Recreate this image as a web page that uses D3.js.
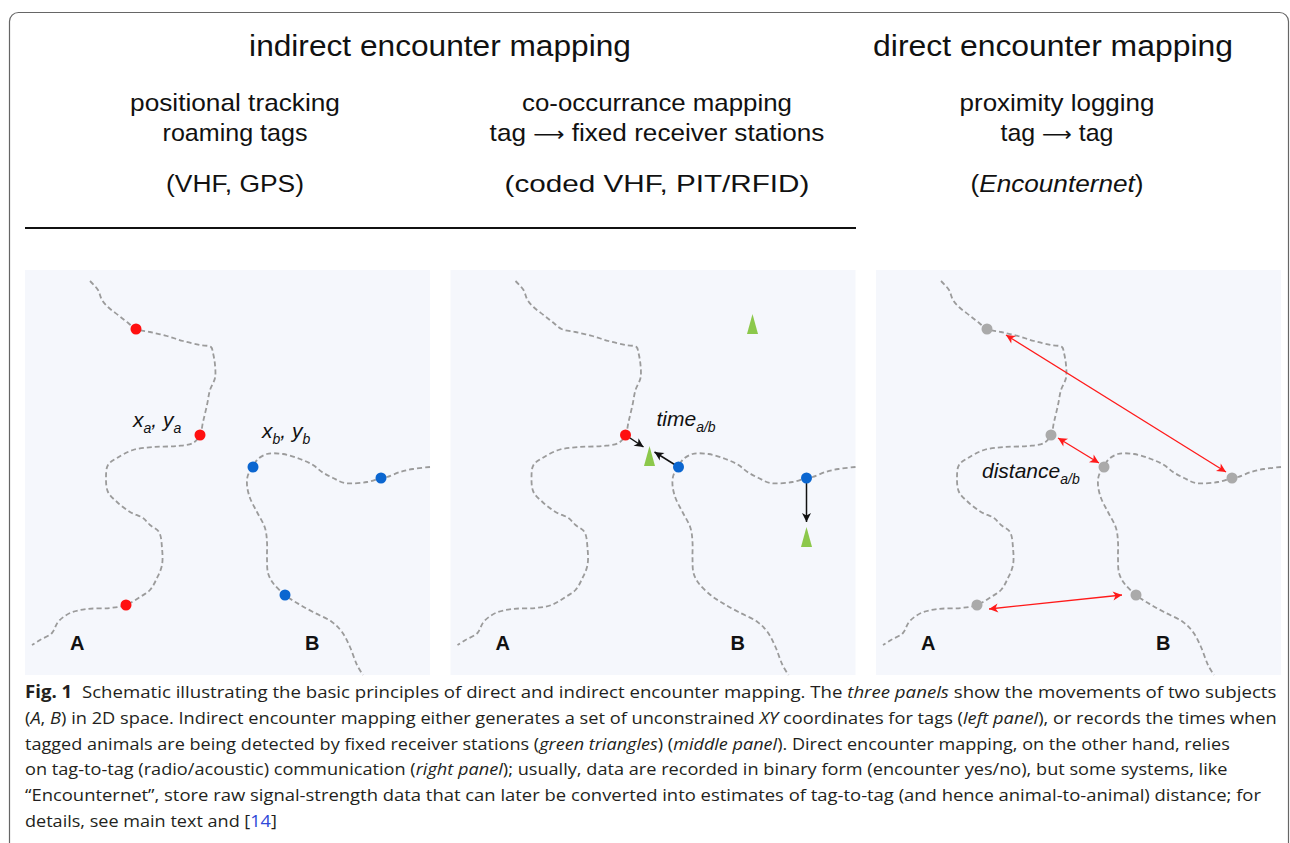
<!DOCTYPE html>
<html>
<head>
<meta charset="utf-8">
<script src="https://cdn.jsdelivr.net/npm/d3@7"></script>
<style>
  body { margin: 0; background: #fff; }
  text { white-space: pre; }
</style>
</head>
<body>
<svg id="fig"></svg>
<script>
// Schematic: indirect vs direct encounter mapping (three panels + caption)

var W = 1290, H = 843;

// ---- data (panel units, 0..405) ----
var panelNames = ["positional", "cooccurrence", "proximity"];

var trackA = [[65,11],[73,20],[77,30],[83,37],[93,45],[102,52],[111,59],[125,62],[142,66],
  [158,71],[175,75],[186,77],[188,83],[190,95],[190,108],[185,120],[182,135],[178,152],
  [175,165],[168,173],[152,176],[128,177],[108,180],[92,188],[83,195],[81,208],[83,222],
  [92,232],[105,242],[118,248],[125,255],[134,262],[137,278],[137,295],[132,308],[125,320],
  [115,327],[101,335],[85,338],[62,339],[45,343],[33,352],[27,363],[15,370],[7,375]];

var trackB = [[405,197],[388,199],[375,202],[362,207],[356,208],[342,212],[320,213],[308,208],
  [297,202],[288,195],[275,189],[258,184],[242,184],[232,190],[228,197],[223,205],[222,215],
  [225,228],[232,242],[240,258],[242,272],[242,288],[243,303],[248,313],[260,325],[272,333],
  [288,342],[307,352],[317,362],[325,377],[332,395],[338,405]];

var fixesA = [[111,59],[175,165],[101,335]];
var fixesB = [[228,197],[356,208],[260,325]];

// receiver stations: [x, base y]
var stations = [[302,64],[199,196],[356,277]];
// tag -> station detections: [x1,y1,x2,y2]
var detections = [[175,165,193,177],[228,197,204,182],[356,208,356,252]];
// tag <-> tag distances: [x1,y1,x2,y2]
var distances = [[130,65,350,202],[182,168,223,193],[113,339,246,325]];

var titles = ["indirect encounter mapping", "direct encounter mapping"];
var methods = [[[["positional tracking",""]], [["roaming tags",""]]],
               [[["co-occurrance mapping",""]], [["tag ",""],["\u27f6","a"],[" fixed receiver stations",""]]],
               [[["proximity logging",""]], [["tag ",""],["\u27f6","a"],[" tag",""]]]];
var systems = [[["(",""],["VHF, GPS",""],[")",""]],
               [["(",""],["coded VHF, PIT/RFID",""],[")",""]],
               [["(",""],["Encounternet","i"],[")",""]]];

var caption = [
  [["Fig. 1","b"],["  Schematic illustrating the basic principles of direct and indirect encounter mapping. The ",""],["three panels","i"],[" show the movements of two subjects",""]],
  [["(",""],["A","i"],[", ",""],["B","i"],[") in 2D space. Indirect encounter mapping either generates a set of unconstrained ",""],["XY","i"],[" coordinates for tags (",""],["left panel","i"],["), or records the times when",""]],
  [["tagged animals are being detected by fixed receiver stations (",""],["green triangles","i"],[") (",""],["middle panel","i"],["). Direct encounter mapping, on the other hand, relies",""]],
  [["on tag-to-tag (radio/acoustic) communication (",""],["right panel","i"],["); usually, data are recorded in binary form (encounter yes/no), but some systems, like",""]],
  [["\u201cEncounternet\u201d, store raw signal-strength data that can later be converted into estimates of tag-to-tag (and hence animal-to-animal) distance; for",""]],
  [["details, see main text and [",""],["14","l"],["]",""]]
];

// ---- layout ----
var panelTop = 270, panelSize = 405;
var titleX = [440, 1053], titleW = [382, 360];
var methodX = [235, 657, 1057];
var methodW = [[210, 145], [270, 335], [195, 113]];
var systemW = [138, 305, 173];
var captionEnd = [1277, 1277, 1231, 1228, 1262, 277];

var svg = d3.select("#fig").attr("width", W).attr("height", H);

var defs = svg.append("defs");
function arrowMarker(id, color) {
  defs.append("marker")
      .attr("id", id)
      .attr("viewBox", "-10 -5 11 10")
      .attr("refX", 0).attr("refY", 0)
      .attr("markerUnits", "userSpaceOnUse")
      .attr("markerWidth", 11).attr("markerHeight", 10)
      .attr("orient", "auto-start-reverse")
    .append("path")
      .attr("d", "M0,0 L-9,-4.5 L-6.5,0 L-9,4.5 Z")
      .attr("fill", color);
}
arrowMarker("headBlack", "#111");
arrowMarker("headRed", "#ff1a1a");

// outer frame
svg.append("rect")
    .attr("x", 9.5).attr("y", 12.5)
    .attr("width", 1279).attr("height", 900)
    .attr("rx", 9)
    .attr("fill", "none")
    .attr("stroke", "#666")
    .attr("stroke-width", 1.2);

// stretch a text line horizontally to a measured width
function fitLine(x, y, width, anchor, build) {
  var g = svg.append("g");
  var t = g.append("text").attr("text-anchor", anchor);
  build(t);
  var k = width / t.node().getComputedTextLength();
  g.attr("transform", "translate(" + x + "," + y + ") scale(" + k + ",1)");
  return t;
}

function addRuns(t, runs) {
  runs.forEach(function(r) {
    var s = t.append("tspan").text(r[0]);
    if (r[1] == "i") s.style("font-style", "italic");
    if (r[1] == "b") s.style("font-weight", "bold");
    if (r[1] == "l") s.attr("fill", "#2f49d8");
    if (r[1] == "a") s.style("font-family", "'DejaVu Sans', sans-serif").style("font-size", "20px");
  });
}

var headFont = "'Liberation Sans', Arial, sans-serif";

titles.forEach(function(d, i) {
  fitLine(titleX[i], 56, titleW[i], "middle", function(t) {
    t.style("font-family", headFont).style("font-size", "30px").attr("fill", "#111").text(d);
  });
});

methods.forEach(function(lines, i) {
  lines.forEach(function(runs, j) {
    fitLine(methodX[i], 111 + j * 30, methodW[i][j], "middle", function(t) {
      t.style("font-family", headFont).style("font-size", "24px").attr("fill", "#111");
      addRuns(t, runs);
    });
  });
  fitLine(methodX[i], 192, systemW[i], "middle", function(t) {
    t.style("font-family", headFont).style("font-size", "24px").attr("fill", "#111");
    addRuns(t, systems[i]);
  });
});

// rule under the indirect group
svg.append("line")
    .attr("x1", 25).attr("x2", 856)
    .attr("y1", 228).attr("y2", 228)
    .attr("stroke", "#111")
    .attr("stroke-width", 2);

// ---- panels ----
var px = d3.scaleBand().domain(panelNames).range([25, 1281]).paddingInner(20.5 / 425.5);
var x = d3.scaleLinear().domain([0, 405]).range([0, panelSize]);
var y = d3.scaleLinear().domain([0, 405]).range([0, panelSize]);

var track = d3.line()
    .x(function(d) { return x(d[0]); })
    .y(function(d) { return y(d[1]); })
    .curve(d3.curveCatmullRom.alpha(0.5));

var panels = svg.selectAll("g.panel")
    .data(panelNames)
    .enter()
    .append("g")
    .attr("class", "panel")
    .attr("transform", function(d) { return "translate(" + px(d) + "," + panelTop + ")"; });

panels.append("rect")
    .attr("width", px.bandwidth())
    .attr("height", panelSize)
    .attr("fill", "#f5f7fc");

panels.selectAll("path.track")
    .data([trackA, trackB])
    .enter()
    .append("path")
    .attr("class", "track")
    .attr("d", track)
    .attr("fill", "none")
    .attr("stroke", "#9b9b9b")
    .attr("stroke-width", 1.8)
    .attr("stroke-dasharray", "5,3");

var labelFont = "'Liberation Sans', Arial, sans-serif";
panels.each(function(name) {
  var p = d3.select(this);
  ["A", "B"].forEach(function(s, i) {
    p.append("text")
        .attr("x", x([45, 280][i]))
        .attr("y", y(380))
        .style("font-family", labelFont)
        .style("font-size", "20px")
        .style("font-weight", "bold")
        .attr("fill", "#111")
        .text(s);
  });
});

function dots(p, data, color, r) {
  p.selectAll(null)
      .data(data)
      .enter()
      .append("circle")
      .attr("cx", function(d) { return x(d[0]); })
      .attr("cy", function(d) { return y(d[1]); })
      .attr("r", r)
      .attr("fill", color);
}

function subLabel(p, lx, ly, parts) {
  var t = p.append("text")
      .attr("x", x(lx)).attr("y", y(ly))
      .style("font-family", labelFont)
      .style("font-style", "italic")
      .attr("fill", "#111");
  var shift = 0;
  parts.forEach(function(q) {
    var s = t.append("tspan").text(q[0]);
    var want = q[1] ? 6 : 0;
    s.attr("dy", want - shift).style("font-size", q[1] ? "14px" : "21px");
    shift = want;
  });
}

// left panel: positional fixes
var left = panels.filter(function(d) { return d == "positional"; });
dots(left, fixesA, "#ff1010", 5.5);
dots(left, fixesB, "#0b66d0", 5.5);
subLabel(left, 108, 157, [["x",0],["a",1],[", ",0],["y",0],["a",1]]);
subLabel(left, 237, 168, [["x",0],["b",1],[", ",0],["y",0],["b",1]]);

// middle panel: fixed receivers
var mid = panels.filter(function(d) { return d == "cooccurrence"; });
mid.selectAll("path.station")
    .data(stations)
    .enter()
    .append("path")
    .attr("class", "station")
    .attr("d", function(d) {
      var cx = x(d[0]), by = y(d[1]);
      return "M" + (cx - 5.5) + "," + by + "L" + cx + "," + (by - 20) + "L" + (cx + 5.5) + "," + by + "Z";
    })
    .attr("fill", "#8cc84b");
mid.selectAll("line.detect")
    .data(detections)
    .enter()
    .append("line")
    .attr("x1", function(d) { return x(d[0]); })
    .attr("y1", function(d) { return y(d[1]); })
    .attr("x2", function(d) { return x(d[2]); })
    .attr("y2", function(d) { return y(d[3]); })
    .attr("stroke", "#111")
    .attr("stroke-width", 1.5)
    .attr("marker-end", "url(#headBlack)");
dots(mid, [fixesA[1]], "#ff1010", 5.5);
dots(mid, fixesB.slice(0, 2), "#0b66d0", 5.5);
subLabel(mid, 206, 156, [["time",0],["a/b",1]]);

// right panel: tag-to-tag distances
var right = panels.filter(function(d) { return d == "proximity"; });
dots(right, fixesA, "#aaaaaa", 5.5);
dots(right, fixesB, "#aaaaaa", 5.5);
right.selectAll("line.dist")
    .data(distances)
    .enter()
    .append("line")
    .attr("x1", function(d) { return x(d[0]); })
    .attr("y1", function(d) { return y(d[1]); })
    .attr("x2", function(d) { return x(d[2]); })
    .attr("y2", function(d) { return y(d[3]); })
    .attr("stroke", "#ff1a1a")
    .attr("stroke-width", 1.3)
    .attr("marker-start", "url(#headRed)")
    .attr("marker-end", "url(#headRed)");
subLabel(right, 106, 208, [["distance",0],["a/b",1]]);

// ---- caption ----
caption.forEach(function(runs, i) {
  fitLine(25, 698 + i * 25.8, captionEnd[i] - 25, "start", function(t) {
    t.style("font-family", "'Open Sans', 'Noto Sans', sans-serif")
     .style("font-size", "17px")
     .attr("fill", "#231f20");
    addRuns(t, runs);
  });
});
</script>
</body>
</html>
